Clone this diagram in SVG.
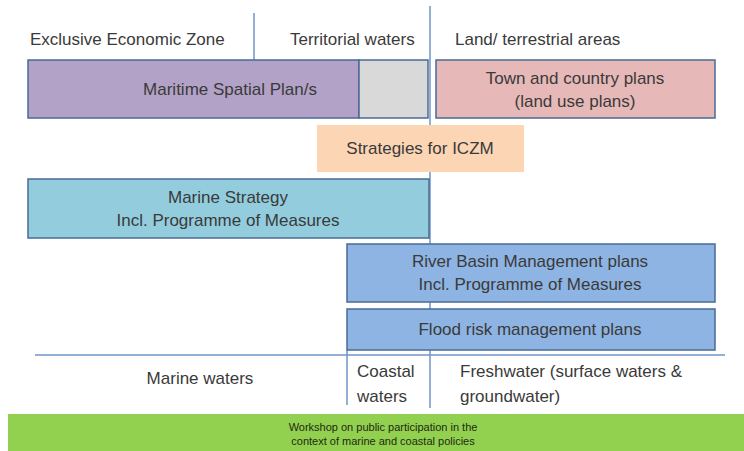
<svg xmlns="http://www.w3.org/2000/svg" width="744" height="451" viewBox="0 0 744 451">
<style>
  text { font-family: "Liberation Sans", Arial, sans-serif; font-size: 17px; fill: #3a3a3a; }
  .c { text-anchor: middle; }
  .box { stroke: #4a6a96; stroke-width: 1.5; }
  .sep { stroke: #6f94c8; stroke-width: 1.5; fill: none; }
  .small { font-size: 11px; fill: #1e2a10; }
</style>
<rect width="744" height="451" fill="#ffffff"/>

<g id="separators">
  <line class="sep" x1="254" y1="13" x2="254" y2="60"/>
  <line class="sep" x1="430" y1="6" x2="430" y2="408"/>
  <line class="sep" x1="35" y1="355" x2="725" y2="355"/>
  <line class="sep" x1="347" y1="350" x2="347" y2="405"/>
</g>

<g id="header-labels">
  <text x="30" y="45">Exclusive Economic Zone</text>
  <text x="290" y="45">Territorial waters</text>
  <text x="455" y="45">Land/ terrestrial areas</text>
</g>

<g id="maritime-spatial-plans">
  <rect class="box" x="28" y="60" width="331" height="58" fill="#b3a2c7"/>
  <text class="c" x="230" y="95">Maritime Spatial Plan/s</text>
</g>

<g id="territorial-grey">
  <rect class="box" x="359" y="60" width="69" height="58" fill="#d9d9d9"/>
</g>

<g id="town-country-plans">
  <rect class="box" x="436" y="60" width="279" height="58" fill="#e6b9b8"/>
  <text class="c" x="575" y="84">Town and country plans</text>
  <text class="c" x="575" y="107">(land use plans)</text>
</g>

<g id="iczm">
  <rect x="317" y="125" width="207" height="47" fill="#fcd5b5"/>
  <text class="c" x="420" y="154">Strategies for ICZM</text>
</g>

<g id="marine-strategy">
  <rect class="box" x="28" y="179" width="401" height="59" fill="#93cddd"/>
  <text class="c" x="228" y="203">Marine Strategy</text>
  <text class="c" x="228" y="226">Incl. Programme of Measures</text>
</g>

<g id="river-basin">
  <rect class="box" x="347" y="244" width="368" height="58" fill="#8eb4e3"/>
  <text class="c" x="530" y="267">River Basin Management plans</text>
  <text class="c" x="530" y="290">Incl. Programme of Measures</text>
</g>

<g id="flood-risk">
  <rect class="box" x="347" y="309" width="368" height="41" fill="#8eb4e3"/>
  <text class="c" x="530" y="335">Flood risk management plans</text>
</g>

<g id="bottom-labels">
  <text class="c" x="200" y="384">Marine waters</text>
  <text x="357" y="377">Coastal</text>
  <text x="357" y="402">waters</text>
  <text x="460" y="377">Freshwater (surface waters &amp;</text>
  <text x="460" y="402">groundwater)</text>
</g>

<g id="footer">
  <rect x="8" y="414" width="736" height="37" fill="#92d050"/>
  <text class="c small" x="383" y="431">Workshop on public participation in the</text>
  <text class="c small" x="383" y="445">context of marine and coastal policies</text>
</g>
</svg>
